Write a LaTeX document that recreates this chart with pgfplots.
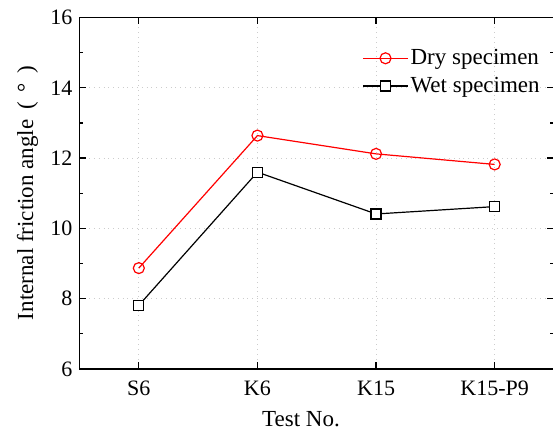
\documentclass[border=0pt]{standalone}
\usepackage{fontspec}
\setmainfont{Liberation Serif}
\usepackage{pgfplots}
\pgfplotsset{compat=1.18}
\begin{document}
\begin{tikzpicture}
\useasboundingbox (0,0) rectangle (276.5pt,216pt);
\begin{axis}[
  at={(39.75pt,31.5pt)}, anchor=south west,
  scale only axis, width=237.25pt, height=175.75pt,
  xmin=-0.5, xmax=3.5, ymin=6, ymax=16,
  xtick={0,1,2,3}, xticklabels={S6,K6,K15,K15-P9},
  ytick={6,8,...,16}, minor ytick={7,9,...,15},
  tick align=inside, major tick length=3.3pt, minor tick length=1.8pt,
  grid=major, major grid style={black!20, dotted, line width=0.5pt},
  axis line style={line width=0.8pt},
  every tick/.style={black, line width=0.6pt},
  tick label style={font=\fontsize{11}{13}\selectfont},
  /pgf/number format/assume math mode=true,
  xticklabel style={yshift=-2.5pt},
  xlabel={Test No.},
  ylabel={Internal friction angle\hspace{0.45em}(\hspace{0.4em}°\hspace{0.4em})},
  label style={font=\fontsize{11.5}{13}\selectfont},
  xlabel style={at={(axis description cs:0.4668,0)}, anchor=base, yshift=-29pt},
  ylabel style={at={(axis description cs:-0.1096,0.5)}, anchor=center},
  legend cell align=left,
  legend image code/.code={\draw[mark repeat=2,mark phase=2,#1] plot coordinates {(0pt,0pt) (11.25pt,0pt) (22.5pt,0pt)};},
  legend style={at={(axis description cs:0.5954,0.911)}, anchor=north west,
    draw=none, fill=none, inner sep=0pt, row sep=4.7pt,
    font=\fontsize{11.5}{13}\selectfont,
    nodes={inner ysep=0pt, inner xsep=1pt}},
]
\addplot[red, line width=0.6pt, mark=o, mark size=2.75pt, mark options={solid, fill=white, line width=0.6pt}]
  coordinates {(0,8.87) (1,12.64) (2,12.12) (3,11.82)};
\addlegendentry{Dry specimen}
\addplot[black, line width=0.6pt, mark=square*, mark size=2.5pt, mark options={solid, fill=white, line width=0.6pt}]
  coordinates {(0,7.81) (1,11.6) (2,10.41) (3,10.62)};
\addlegendentry{Wet specimen}
\end{axis}
\end{tikzpicture}
\end{document}
